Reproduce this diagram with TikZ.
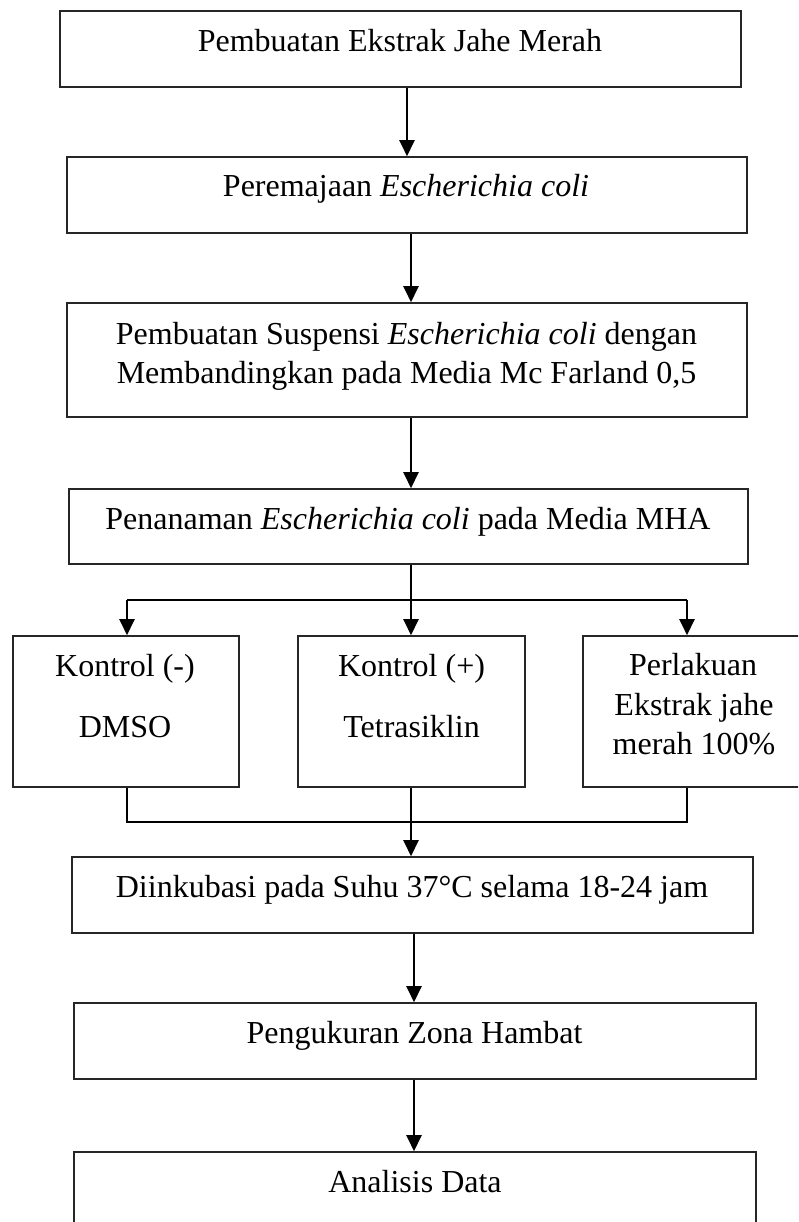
\documentclass[tikz,border=0pt]{standalone}
\usepackage{fontspec}
\setmainfont{Liberation Serif}
\usetikzlibrary{arrows.meta}
\begin{document}
\begin{tikzpicture}[x=1pt,y=-1pt,
  box/.style={draw=black!85, line width=1.6pt, inner sep=0pt, rectangle},
  txt/.style={anchor=base, inner sep=0pt, font=\fontsize{32}{39}\selectfont},
  conn/.style={line width=2.6pt},
  arr/.style={line width=2.4pt, -{Triangle[width=15pt,length=16pt]}}]
\clip (0,0) rectangle (798,1222);
\fill[white] (0,0) rectangle (798,1222);
% boxes
\node[box, minimum width=681pt, minimum height=76pt] (b1) at (400.5,49) {};
\node[box, minimum width=680pt, minimum height=76pt] (b2) at (407,195) {};
\node[box, minimum width=680pt, minimum height=114pt] (b3) at (407,360) {};
\node[box, minimum width=679pt, minimum height=75pt] (b4) at (408.5,526.5) {};
\node[box, minimum width=226pt, minimum height=151pt] (k1) at (126,711.5) {};
\node[box, minimum width=227pt, minimum height=151pt] (k2) at (411.5,711.5) {};
\node[box, minimum width=222pt, minimum height=151pt] (k3) at (694,711.5) {};
\node[box, minimum width=681pt, minimum height=76pt] (b5) at (412.5,895) {};
\node[box, minimum width=682pt, minimum height=76pt] (b6) at (415,1041) {};
\node[box, minimum width=682pt, minimum height=100pt] (b7) at (415,1202) {};
% texts
\node[txt] (t1) at (400,52) {Pembuatan Ekstrak Jahe Merah};
\node[txt] (t2) at (406,197) {Peremajaan \textit{Escherichia coli}};
\node[txt] (t3a) at (406.5,344) {Pembuatan Suspensi \textit{Escherichia coli} dengan};
\node[txt] (t3b) at (406.5,383) {Membandingkan pada Media Mc Farland 0,5};
\node[txt] (t4) at (408,529) {Penanaman \textit{Escherichia coli} pada Media MHA};
\node[txt] (k1a) at (125,676) {Kontrol (-)};
\node[txt] (k1b) at (125,737) {DMSO};
\node[txt] (k2a) at (411.5,676) {Kontrol (+)};
\node[txt] (k2b) at (411.5,737) {Tetrasiklin};
\node[txt] (k3a) at (693,675) {Perlakuan};
\node[txt] (k3b) at (694,715) {Ekstrak jahe};
\node[txt] (k3c) at (694,754) {merah 100\%};
\node[txt] (t5) at (412,897) {Diinkubasi pada Suhu 37°C selama 18-24 jam};
\node[txt] (t6) at (414.5,1043) {Pengukuran Zona Hambat};
\node[txt] (t7) at (415,1192) {Analisis Data};
% arrows
\draw[arr] (b1.south -| b2.north) -- (b2.north);
\draw[arr] ([xshift=4pt]b2.south) -- ([xshift=4pt]b3.north);
\draw[arr] ([xshift=4pt]b3.south) -- ([xshift=4pt]b3.south |- b4.north);
% branch
\coordinate (j1) at (411,600);
\coordinate (p1) at (127,600);
\coordinate (p3) at (687,600);
\draw[conn] (j1 |- b4.south) -- (j1);
\draw[conn] (p1) -- (p3);
\draw[arr] (p1) -- (p1 |- k1.north);
\draw[arr] (j1) -- (j1 |- k2.north);
\draw[arr] (p3) -- (p3 |- k3.north);
% merge
\coordinate (m1) at (127,822);
\coordinate (m2) at (411,822);
\coordinate (m3) at (687,822);
\draw[conn] (m1 |- k1.south) -- (m1) -- (m3) -- (m3 |- k3.south);
\draw[conn] (m2 |- k2.south) -- (m2);
\draw[arr] (m2) -- (m2 |- b5.north);
\draw[arr] ([xshift=1.5pt]b5.south) -- ([xshift=1.5pt]b5.south |- b6.north);
\draw[arr] ([xshift=-1pt]b6.south) -- ([xshift=-1pt]b6.south |- b7.north);
\end{tikzpicture}
\end{document}
